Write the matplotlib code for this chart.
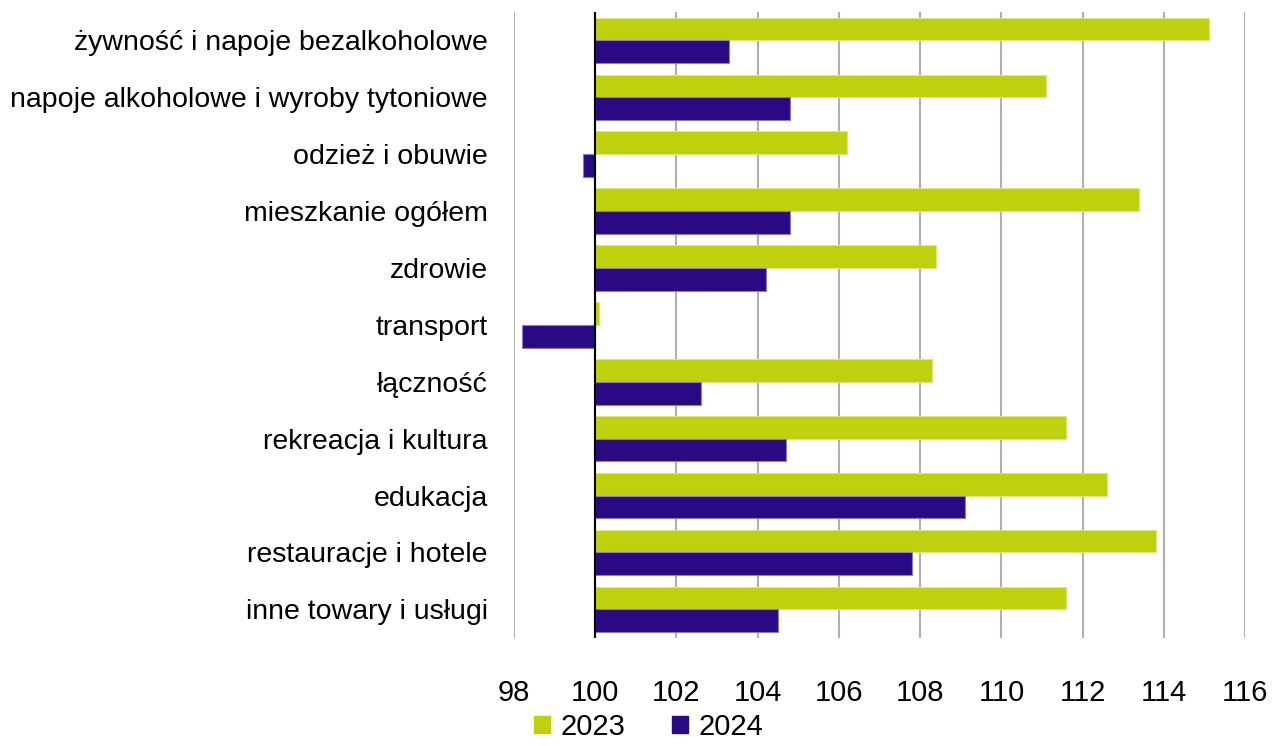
import numpy as np
import matplotlib.pyplot as plt
from matplotlib.patches import Patch

categories = ['żywność i napoje bezalkoholowe', 'napoje alkoholowe i wyroby tytoniowe',
              'odzież i obuwie', 'mieszkanie ogółem', 'zdrowie', 'transport', 'łączność',
              'rekreacja i kultura', 'edukacja', 'restauracje i hotele', 'inne towary i usługi']
v2023 = [115.1, 111.1, 106.2, 113.4, 108.4, 100.1, 108.3, 111.6, 112.6, 113.8, 111.6]
v2024 = [103.3, 104.8, 99.7, 104.8, 104.2, 98.2, 102.6, 104.7, 109.1, 107.8, 104.5]
xticks = [98, 100, 102, 104, 106, 108, 110, 112, 114, 116]

green = '#BFD00D'
purple = '#2A0A82'
base = 100

plt.rcParams['font.family'] = ['Liberation Sans', 'DejaVu Sans']

fig = plt.figure(figsize=(12.77, 7.46), dpi=100)
ax = fig.add_axes([0.4025, 0.145, 0.5725, 0.839])

y = np.arange(len(categories))
h = 0.4
ax.barh(y - h / 2, np.array(v2023) - base, left=base, height=h, color=green,
        edgecolor='#DDE680', linewidth=0.8, zorder=3)
ax.barh(y + h / 2, np.array(v2024) - base, left=base, height=h, color=purple,
        edgecolor='#8A78C8', linewidth=0.8, zorder=3)

ax.set_xlim(98, 116)
ax.set_ylim(len(categories) - 0.5, -0.5)
ax.set_xticks(xticks)
ax.set_xticklabels([str(t) for t in xticks], fontsize=21)
ax.set_yticks(y)
ax.set_yticklabels(categories, fontsize=20.5)
ax.tick_params(axis='x', length=0, pad=30)
ax.tick_params(axis='y', length=0, pad=19)
ax.grid(axis='x', color='#B0B0B0', linewidth=1.5, zorder=0)
for s in ax.spines.values():
    s.set_visible(False)
ax.axvline(base, color='black', linewidth=1.5, zorder=4)

handles = [Patch(color=green, label='2023'), Patch(color=purple, label='2024')]
fig.legend(handles=handles, loc='lower center', bbox_to_anchor=(0.508, -0.028), ncol=2,
           frameon=False, fontsize=21, handlelength=0.55, handleheight=0.55,
           handletextpad=0.35, columnspacing=1.6)

fig.savefig('out.png', dpi=100)
